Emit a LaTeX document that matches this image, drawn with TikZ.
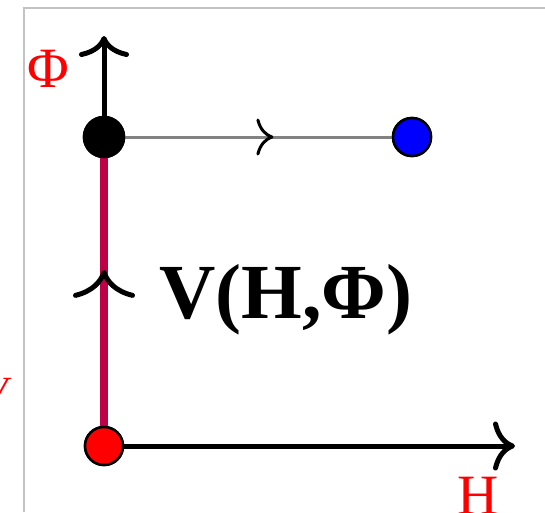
\documentclass[tikz,border=0pt]{standalone}
\usepackage{fontspec}
\setmainfont{Liberation Serif}
\usetikzlibrary{arrows.meta,decorations.markings}
\definecolor{crimsonline}{RGB}{190,0,70}
\definecolor{frameline}{RGB}{195,195,195}
\definecolor{grayline}{RGB}{130,130,130}
\tikzset{
  dot/.style={circle, draw=black, line width=2.5pt, minimum size=38pt, inner sep=0pt},
  axis/.style={line width=5pt, black},
  redlabel/.style={text=red, inner sep=0pt, font=\fontsize{57}{57}\selectfont}
}
\begin{document}
\begin{tikzpicture}[x=1pt,y=-1pt]
\useasboundingbox (0,0) rectangle (545,512);
\fill[white] (0,0) rectangle (545,512);
% frame
\draw[frameline, line width=1.3pt] (24,512) -- (24,8) -- (545,8);
% nodes
\node[dot, fill=black, minimum size=40pt] (phi) at (104,137) {};
\node[dot, fill=blue] (blue) at (412,137) {};
\node[dot, fill=red] (origin) at (104,446) {};
\coordinate (ytip) at (104,36);
\coordinate (xtip) at (515,446);
% connectors
\draw[axis, -{Computer Modern Rightarrow[length=21pt,width=50pt,line width=5pt]}] (phi.center) -- (ytip);
\draw[axis, -{Computer Modern Rightarrow[length=22pt,width=49pt,line width=5pt]}] (origin.center) -- (xtip);
\draw[crimsonline, line width=8pt,
  postaction={decorate, decoration={markings,
    mark=at position 0.57 with {\arrow[black]{Computer Modern Rightarrow[length=28pt,width=62pt,line width=5pt]}}}}]
  (origin.center) -- (phi.center);
\draw[grayline, line width=3pt,
  postaction={decorate, decoration={markings,
    mark=at position 0.55 with {\arrow[black]{Computer Modern Rightarrow[length=17pt,width=37pt,line width=3pt]}}}}]
  (phi.center) -- (blue.center);
% redraw dots on top of the lines
\node[dot, fill=black, minimum size=40pt] at (phi) {};
\node[dot, fill=blue] at (blue) {};
\node[dot, fill=red] at (origin) {};
% labels
\node[redlabel] (philabel) at (48,69) {Φ};
\node[redlabel, anchor=north] (hlabel) at (478,477) {H};
\node[anchor=north east, inner sep=0pt, text=red, font=\fontsize{40}{40}\selectfont\itshape] (vcut) at (8,378) {V};
\node[anchor=base west, inner sep=0pt, font=\fontsize{78}{78}\selectfont\bfseries] (vlabel) at (159,318) {V(H,Φ)};
\end{tikzpicture}
\end{document}
